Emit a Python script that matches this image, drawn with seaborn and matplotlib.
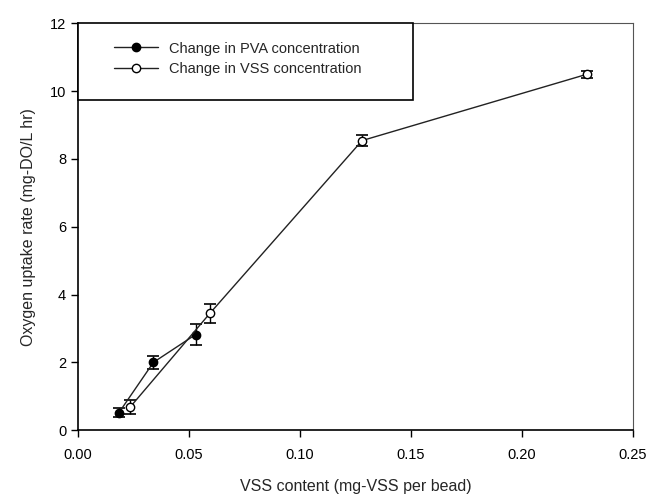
import numpy as np
import pandas as pd
import seaborn as sns
import matplotlib.pyplot as plt
from matplotlib.patches import Rectangle

# data
pva_x   = [0.0185, 0.034, 0.053]
pva_y   = [0.52, 2.00, 2.82]
pva_err = [0.12, 0.20, 0.30]
vss_x   = [0.0235, 0.0595, 0.128, 0.2295]
vss_y   = [0.68, 3.45, 8.54, 10.5]
vss_err = [0.20, 0.28, 0.15, 0.10]
labels  = ['Change in PVA concentration', 'Change in VSS concentration']

df = pd.concat([
    pd.DataFrame({'x': pva_x, 'y': pva_y, 'err': pva_err, 'series': labels[0]}),
    pd.DataFrame({'x': vss_x, 'y': vss_y, 'err': vss_err, 'series': labels[1]}),
]).reset_index(drop=True)

sns.set_style('ticks')
plt.rcParams['font.family'] = ['Liberation Sans', 'DejaVu Sans']

fig = plt.figure(figsize=(6.52, 4.95), dpi=100)
ax = fig.add_axes([0.1196, 0.131, 0.851, 0.822])

faces = {labels[0]: 'black', labels[1]: 'white'}
for name, sub in df.groupby('series', sort=False):
    ax.errorbar(sub['x'], sub['y'], yerr=sub['err'], fmt='none', ecolor='black',
                elinewidth=1, capsize=4.5, capthick=1.2, zorder=2)
    sns.lineplot(data=sub, x='x', y='y', ax=ax, color='#222222', lw=1, sort=False,
                 marker='o', markersize=6, markerfacecolor=faces[name],
                 markeredgecolor='black', markeredgewidth=1, label=name, zorder=3)

ax.set_xlim(0, 0.25)
ax.set_ylim(0, 12)
ax.set_xticks(np.arange(0, 0.26, 0.05))
ax.set_xticklabels([f'{v:.2f}' for v in np.arange(0, 0.26, 0.05)])
ax.set_yticks(np.arange(0, 13, 2))
ax.tick_params(direction='out', length=5, width=1, labelsize=10.5, colors='black')
ax.tick_params(axis='x', pad=8)
ax.set_xlabel('VSS content (mg-VSS per bead)', fontsize=11.5, labelpad=12)
ax.set_ylabel('Oxygen uptake rate (mg-DO/L hr)', fontsize=11.5, labelpad=10)
for s in ['left', 'bottom']:
    ax.spines[s].set_linewidth(1.2)
    ax.spines[s].set_color('black')
for s in ['top', 'right']:
    ax.spines[s].set_linewidth(0.8)
    ax.spines[s].set_color('#555555')

# legend box
ax.add_patch(Rectangle((0, 0.811), 0.604, 0.189, transform=ax.transAxes,
                       fill=True, facecolor='white', edgecolor='black', lw=1.2, zorder=4,
                       clip_on=False))
leg = ax.legend(loc='upper left', bbox_to_anchor=(0.065, 0.955), frameon=False,
                fontsize=10.5, handlelength=3.0, handletextpad=0.8, labelspacing=0.45,
                borderaxespad=0, borderpad=0)
leg.set_zorder(5)

fig.savefig('out.png', dpi=100)
